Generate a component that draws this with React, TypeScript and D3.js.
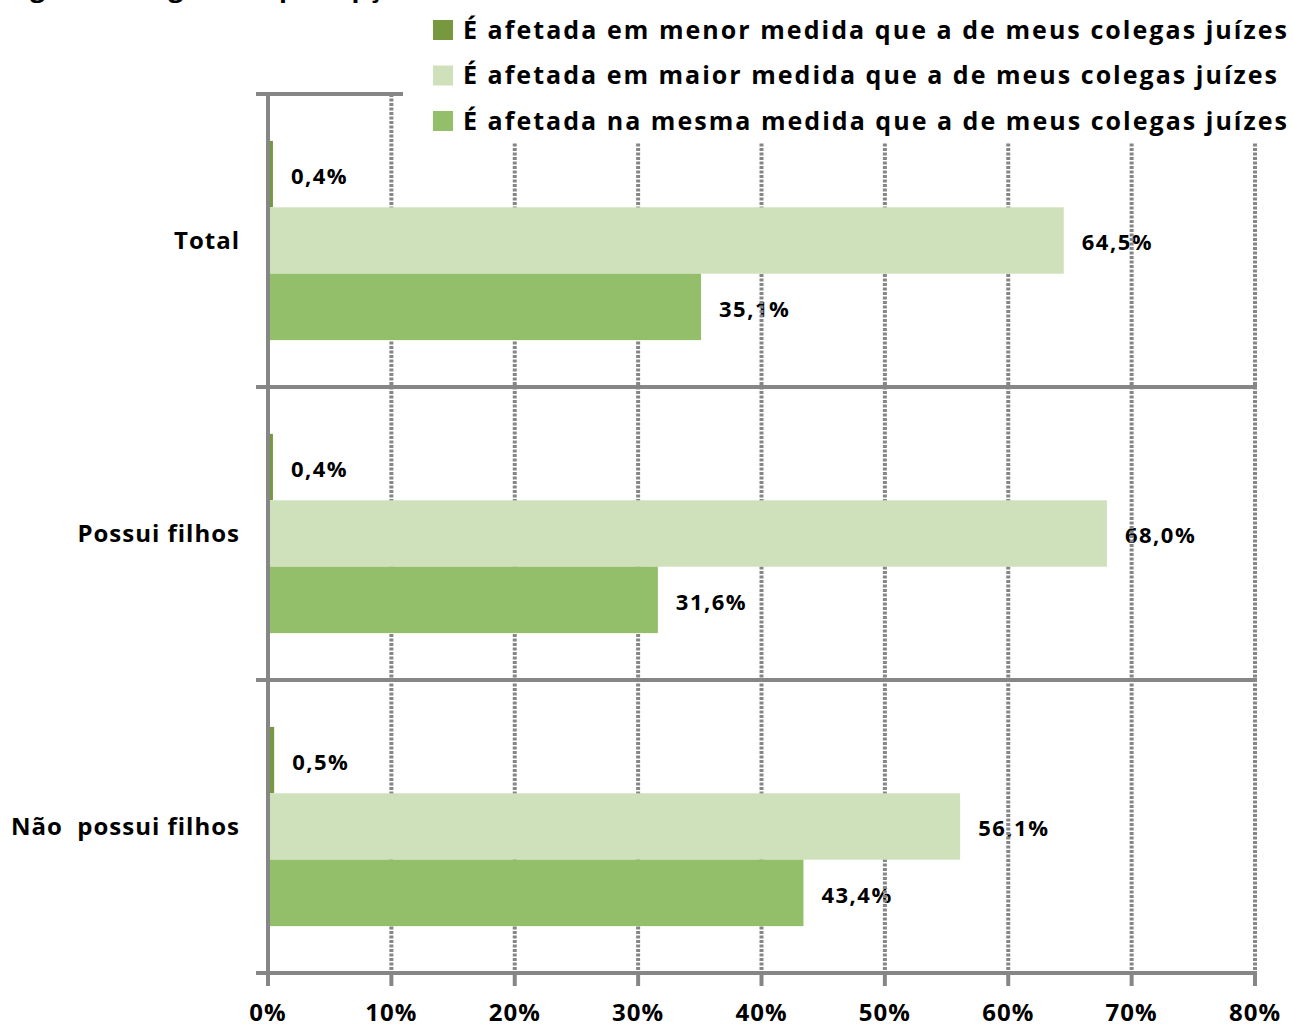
import React from 'react';
import * as d3 from 'd3';

const categories = ['Total', 'Possui filhos', 'Não  possui filhos'];
const seriesNames = [
  'É afetada em menor medida que a de meus colegas juízes',
  'É afetada em maior medida que a de meus colegas juízes',
  'É afetada na mesma medida que a de meus colegas juízes',
];
const menor = [0.4, 0.4, 0.5];
const maior = [64.5, 68.0, 56.1];
const mesma = [35.1, 31.6, 43.4];
const ticks = [0, 10, 20, 30, 40, 50, 60, 70, 80];
const colors = ['#77983f', '#cfe1bb', '#93bf6a'];
const titleText = 'Figura 12, segundo a percepção';

const W = 1293;
const H = 1028;
const FONT = '"Open Sans", Lato, sans-serif';
const GRID = '#868686';

const fmt = (v: number) => v.toFixed(1).replace('.', ',') + '%';

const App: React.FC = () => {
  const x = d3.scaleLinear().domain([0, 80]).range([268, 1255]);
  const y = d3.scaleBand<string>().domain(categories).range([94, 973]).padding(0);
  const bw = y.bandwidth();
  const inner = d3.scaleBand<number>().domain([0, 1, 2]).range([bw * 0.16, bw * 0.84]).padding(0);
  const values = [menor, maior, mesma];

  const boundaries = [94, ...categories.map((c) => (y(c) ?? 0) + bw)];

  return (
    <svg width={W} height={H} style={{ position: 'absolute', left: 0, top: 0, background: '#fff' }} fontFamily={FONT}>
      {/* caption cut off at the top edge, as in the source */}
      <text x={8} y={-3} fontSize={26} fontWeight="bold" fill="#000">{titleText}</text>

      {/* value labels */}
      {categories.map((c, ci) =>
        values.map((s, si) => (
          <text
            key={`l${ci}-${si}`}
            x={x(s[ci]) + 18}
            y={(y(c) ?? 0) + (inner(si) ?? 0) + inner.bandwidth() / 2 + 2}
            dy="0.35em"
            fontSize={22}
            fontWeight="bold"
            letterSpacing={1.5}
            fill="#000"
          >
            {fmt(s[ci])}
          </text>
        ))
      )}

      {/* dotted vertical gridlines */}
      {ticks.slice(1).map((t) => (
        <line key={`g${t}`} x1={x(t)} x2={x(t)} y1={94} y2={973} stroke={GRID} strokeWidth={4} strokeDasharray="3 1.5" />
      ))}

      {/* bottom tick marks */}
      {ticks.map((t) => (
        <line key={`t${t}`} x1={x(t)} x2={x(t)} y1={973} y2={986} stroke={GRID} strokeWidth={4} />
      ))}

      {/* category boundary lines */}
      {boundaries.map((b, i) => (
        <line key={`b${i}`} x1={256} x2={1257} y1={b} y2={b} stroke={GRID} strokeWidth={4} />
      ))}

      {/* bars */}
      {categories.map((c, ci) =>
        values.map((s, si) => (
          <rect
            key={`r${ci}-${si}`}
            x={x(0)}
            y={(y(c) ?? 0) + (inner(si) ?? 0)}
            width={x(s[ci]) - x(0)}
            height={inner.bandwidth()}
            fill={colors[si]}
          />
        ))
      )}

      {/* left axis */}
      <line x1={x(0)} x2={x(0)} y1={92} y2={986} stroke={GRID} strokeWidth={4} />

      {/* category labels */}
      {categories.map((c) => (
        <text
          key={c}
          x={240}
          y={(y(c) ?? 0) + bw / 2}
          dy="0.35em"
          textAnchor="end"
          fontSize={24}
          fontWeight="bold"
          letterSpacing={1}
          fill="#000"
          style={{ whiteSpace: 'pre' }}
        >
          {c}
        </text>
      ))}

      {/* x tick labels */}
      {ticks.map((t) => (
        <text key={`x${t}`} x={x(t)} y={1013} dy="0.35em" textAnchor="middle" fontSize={24} fontWeight="bold" letterSpacing={1} fill="#000">
          {t}%
        </text>
      ))}

      {/* legend */}
      <rect x={403} y={0} width={W - 403} height={142} fill="#fff" />
      {seriesNames.map((n, i) => {
        const cy = 30 + i * 45.5;
        return (
          <g key={n}>
            <rect x={433} y={cy - 10} width={20} height={20} fill={colors[i]} />
            <text
              x={463}
              y={cy}
              dy="0.35em"
              fontSize={25}
              fontWeight="bold"
              fill="#000"
              textLength={i === 1 ? 814 : 824}
              lengthAdjust="spacing"
            >
              {n}
            </text>
          </g>
        );
      })}
    </svg>
  );
};

export default App;
